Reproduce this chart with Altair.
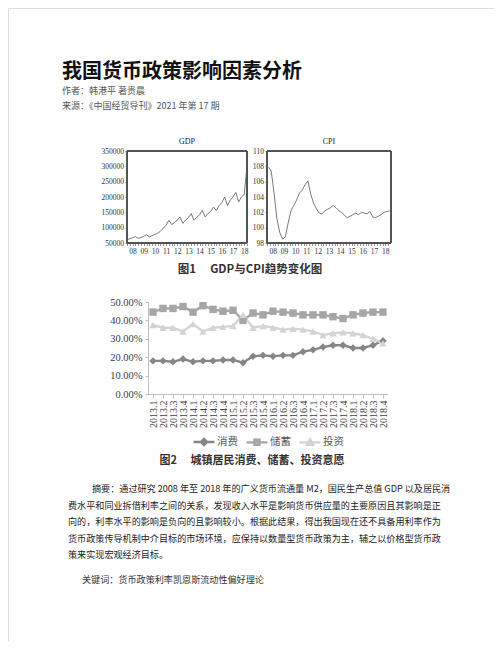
import altair as alt
import pandas as pd

CJK = "Noto Sans CJK SC"
SERIF = "Liberation Serif"

# ---------------- text content ----------------
TITLE = "我国货币政策影响因素分析"
AUTHOR = "作者：韩港平 著贵晨"
SOURCE = "来源：《中国经贸导刊》2021 年第 17 期"
FIG1_CAPTION = "图1　 GDP与CPI趋势变化图"
FIG2_CAPTION = "图2　 城镇居民消费、储蓄、投资意愿"
ABSTRACT_FIRST = "摘要：通过研究 2008 年至 2018 年的广义货币流通量 M2，国民生产总值 GDP 以及居民消"
ABSTRACT_REST = [
    "费水平和同业拆借利率之间的关系，发现收入水平是影响货币供应量的主要原因且其影响是正",
    "向的，利率水平的影响是负向的且影响较小。根据此结果，得出我国现在还不具备用利率作为",
    "货币政策传导机制中介目标的市场环境，应保持以数量型货币政策为主，辅之以价格型货币政",
    "策来实现宏观经济目标。",
]
KEYWORDS = "关键词：货币政策利率凯恩斯流动性偏好理论"

# ---------------- figure 1 data (quarterly 2008Q1-2018Q4) ----------------
YEARS = list(range(2008, 2019))
GDP = [
    60000, 64000, 67000, 71000,
    65000, 68000, 72000, 77000,
    70000, 74000, 78000, 82000,
    89000, 98000, 108000, 124000,
    110000, 117000, 124000, 135000,
    114000, 125000, 132000, 146000,
    124000, 134000, 142000, 156000,
    135000, 146000, 153000, 167000,
    156000, 172000, 182000, 200000,
    172000, 190000, 200000, 215000,
    184000, 200000, 208000, 300000,
]
CPI = [
    107.9, 107.4, 104.5, 101.2,
    99.4, 98.5, 98.8, 100.6,
    102.2, 102.9, 103.6, 104.5,
    104.9, 105.6, 106.1, 104.4,
    103.2, 102.5, 101.9, 101.8,
    102.2, 102.4, 102.6, 102.9,
    102.6, 102.2, 102.0, 101.6,
    101.3, 101.5, 101.7, 101.9,
    101.7, 102.0, 101.9, 101.8,
    102.1, 101.4, 101.3, 101.5,
    101.7, 102.0, 102.1, 102.2,
]

# ---------------- figure 2 data ----------------
PERIODS = [f"{y}.{q}" for y in range(2013, 2019) for q in range(1, 5)]
SERIES = ["消费", "储蓄", "投资"]
CONSUME = [18, 18, 17.5, 19, 17.5, 18, 18, 18.5, 18.5, 17, 20.5, 21,
           20.5, 21, 21, 23, 24, 25.5, 26.5, 26.5, 25, 25, 26.5, 29]
SAVE = [44.5, 46.5, 46.5, 47.5, 44.5, 48, 46, 45, 45.5, 40, 44, 43,
        45, 44.5, 44, 43, 43, 43, 42, 41, 43, 44, 44.5, 44.5]
INVEST = [37.5, 36, 36, 34, 38, 34, 36, 36.5, 37, 43, 36, 37,
          36, 35, 35.5, 35, 34, 32, 33, 33.5, 33, 32, 30, 27.5]
COLORS = ["#868686", "#a6a6a6", "#d4d4d4"]

W, H = 486, 633

# ---------------- helpers ----------------
def txt(s, x, y, size, weight="normal", color="#222222", align="left", font=CJK):
    return alt.Chart(pd.DataFrame({"s": [s]})).mark_text(
        align=align, baseline="middle", fontSize=size, fontWeight=weight,
        color=color, font=font
    ).encode(x=alt.value(x), y=alt.value(y), text="s:N")


quarter_ticks = [y + q / 4 for y in YEARS for q in range(4)]
label_expr = "((datum.value*4)%4==2) ? format(floor(datum.value)%100, '02d') : ''"


def eviews_panel(df, title, xdom, xrange, ydom, yrange, yvals, yfmt):
    xaxis = alt.Axis(orient="bottom", offset=yrange[0] - H, values=quarter_ticks,
                     labelExpr=label_expr, labelOverlap=False, labelFlush=False,
                     labelBound=False, domain=False, tickSize=2.5, tickColor="#444",
                     tickWidth=0.6, labelFont=SERIF, labelFontSize=7.5,
                     labelColor="#333", labelPadding=1.5, title=None, grid=False)
    yaxis = alt.Axis(orient="left", offset=-xrange[0], values=yvals, format=yfmt,
                     domain=False, tickSize=2, tickColor="#444", tickWidth=0.6,
                     labelFont=SERIF, labelFontSize=7.5, labelColor="#333",
                     labelPadding=1.5, title=None, grid=False, labelFlush=False,
                     labelBound=False, labelOverlap=False)
    xs = alt.Scale(domain=xdom, range=xrange, nice=False, zero=False)
    ys = alt.Scale(domain=ydom, range=yrange, nice=False, zero=False)
    line = alt.Chart(df).mark_line(color="#6a6a6a", strokeWidth=0.9).encode(
        x=alt.X("t:Q", scale=xs, axis=xaxis),
        y=alt.Y("v:Q", scale=ys, axis=yaxis),
    )
    frame = alt.Chart(df).mark_rect(fillOpacity=0, stroke="#555", strokeWidth=0.7).encode(
        x=alt.datum(xdom[0], scale=xs, axis=xaxis, type="quantitative"),
        x2=alt.datum(xdom[1]),
        y=alt.datum(ydom[0], scale=ys, axis=yaxis, type="quantitative"),
        y2=alt.datum(ydom[1]),
    )
    ttl = txt(title, (xrange[0] + xrange[1]) / 2, yrange[1] - 9, 8, color="#222",
              align="center", font=SERIF)
    return alt.layer(line, frame, ttl)


gdp_df = pd.DataFrame({"t": [y + q / 4 for y in YEARS for q in range(4)], "v": GDP})
cpi_df = pd.DataFrame({"t": [y + q / 4 + 0.125 for y in YEARS for q in range(4)], "v": CPI})

gdp = eviews_panel(gdp_df, "GDP", [2008, 2018.75], [119, 239], [50000, 350000], [235, 143],
                   [50000, 100000, 150000, 200000, 250000, 300000, 350000], "d")
cpi = eviews_panel(cpi_df, "CPI", [2008, 2019], [259, 383], [98, 110], [235, 143],
                   [98, 100, 102, 104, 106, 108, 110], "d")

# ---------------- figure 2 ----------------
f2 = pd.DataFrame({
    "period": PERIODS * 3,
    "series": [s for s in SERIES for _ in PERIODS],
    "value": [v / 100 for v in CONSUME + SAVE + INVEST],
})

x2 = alt.X("period:O", sort=PERIODS,
           scale=alt.Scale(type="point", range=[140, 380], padding=0.5),
           axis=alt.Axis(orient="bottom", offset=386 - H, labelAngle=270, labelFont=SERIF,
                         labelFontSize=10, labelColor="#404040", domainColor="#bfbfbf",
                         tickColor="#bfbfbf", tickSize=4, labelPadding=2, title=None,
                         labelOverlap=False, grid=False))
y2 = alt.Y("value:Q", scale=alt.Scale(domain=[0, 0.5], range=[386, 294], nice=False),
           axis=alt.Axis(orient="left", offset=-140, values=[0, 0.1, 0.2, 0.3, 0.4, 0.5],
                         format=".2%", labelFont=SERIF, labelFontSize=10.5,
                         labelColor="#404040", domainColor="#bfbfbf", tickColor="#bfbfbf",
                         tickSize=3, labelPadding=3, title=None, grid=False))

col_scale = alt.Scale(domain=SERIES, range=COLORS)
base2 = alt.Chart(f2)
lines2 = base2.mark_line(strokeWidth=2.4).encode(
    x=x2, y=y2, color=alt.Color("series:N", scale=col_scale, legend=None),
    order=alt.Order("period:O"))
pts2 = base2.mark_point(filled=True, size=55, opacity=1).encode(
    x=x2, y=y2,
    color=alt.Color("series:N", scale=col_scale, legend=None),
    shape=alt.Shape("series:N", scale=alt.Scale(domain=SERIES,
                    range=["diamond", "square", "triangle-up"]), legend=None))

LEG_PATHS = [
    "M-1,0H1M0,-0.3L0.3,0L0,0.3L-0.3,0ZM0,-0.15V0.15",
    "M-1,0H1M-0.24,-0.24H0.24V0.24H-0.24ZM0,-0.12V0.12",
    "M-1,0H1M0,-0.3L0.3,0.24L-0.3,0.24ZM0,-0.1V0.2",
]
leg = dict(orient="none", legendX=184, legendY=422, direction="horizontal", title=None,
           symbolSize=441, symbolStrokeWidth=2.4, symbolOpacity=1,
           labelFont=CJK, labelFontSize=10.5, labelColor="#595959",
           columnPadding=3, labelOffset=1, padding=0)
legend_layer = base2.mark_point(opacity=0, strokeWidth=2.4, filled=False).encode(
    x=x2, y=y2,
    color=alt.Color("series:N", scale=col_scale, legend=alt.Legend(**leg)),
    shape=alt.Shape("series:N", scale=alt.Scale(domain=SERIES, range=LEG_PATHS),
                    legend=alt.Legend(**leg)))

fig2 = alt.layer(lines2, pts2, legend_layer).resolve_scale(color="independent",
                                                          shape="independent")

# ---------------- text blocks ----------------
texts = [
    txt(TITLE, 54, 64, 20, weight="bold", color="#111"),
    txt(AUTHOR, 54, 83, 9, color="#555"),
    txt(SOURCE, 54, 98, 9, color="#555"),
    txt(FIG1_CAPTION, 242, 262, 11.5, weight="bold", color="#333", align="center"),
    txt(FIG2_CAPTION, 244, 453, 11, weight="bold", color="#333", align="center"),
    txt(ABSTRACT_FIRST, 84, 481, 9.1, color="#222"),
    alt.Chart(pd.DataFrame({"s": [0]})).mark_text(
        align="left", baseline="middle", fontSize=9.1, color="#222", font=CJK,
        lineHeight=16.5).encode(x=alt.value(60), y=alt.value(497.5),
                                text=alt.value(ABSTRACT_REST)),
    txt(KEYWORDS, 74, 572, 9.1, color="#333"),
]

chart = alt.layer(*texts, gdp, cpi, fig2).resolve_scale(
    x="independent", y="independent").resolve_axis(
    x="independent", y="independent").properties(
    width=W, height=H, autosize=alt.AutoSizeParams(type="none"), padding=0
).configure_view(stroke=None).configure(background="white")

chart.save("out.html", embed_options={"renderer": "svg", "actions": False})
